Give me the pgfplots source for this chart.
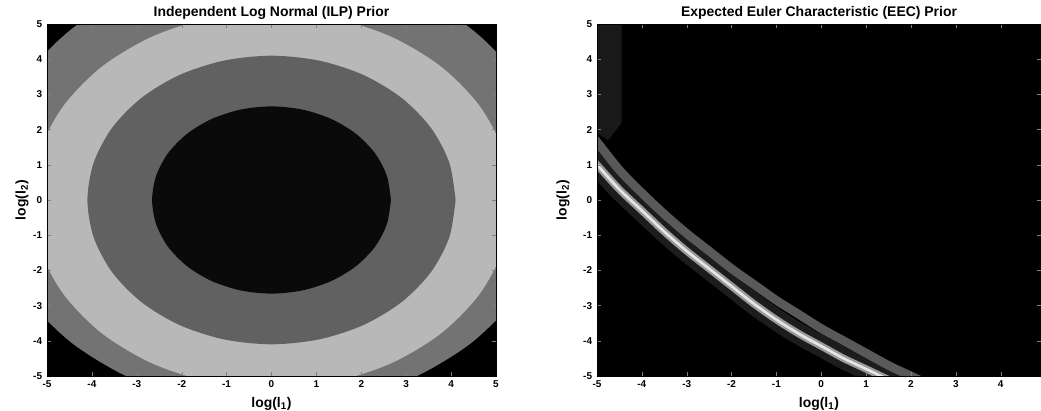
\documentclass[border=0pt]{standalone}
\usepackage{pgfplots}
\pgfplotsset{compat=1.18}
\usepackage{fontspec}
\setmainfont{Liberation Sans}
\begin{document}
\begin{tikzpicture}
\useasboundingbox (-35.25bp,-26.25bp) rectangle (745.5bp,282bp);
\pgfplotsset{
  common/.style={
    scale only axis, height=264bp,
    xmin=-5, ymin=-5, ymax=5,
    ytick={-5,...,5},
    axis background/.style={fill=black},
    axis on top,
    tick align=inside, major tick length=3bp,
    /pgf/number format/assume math mode=true,
    ticklabel style={font=\fontsize{7.5}{8}\selectfont\bfseries, inner sep=0pt},
    xticklabel style={anchor=north, yshift=-3bp},
    yticklabel style={anchor=east, xshift=-3.5bp},
    title style={at={(axis description cs:0.5,1)}, anchor=base, inner sep=0pt, font=\fontsize{10.5}{12}\selectfont\bfseries},
    xlabel style={at={(axis description cs:0.5,0)}, anchor=north, yshift=-16bp, inner sep=0pt, font=\fontsize{10.5}{12}\selectfont\bfseries},
    ylabel style={anchor=center, inner sep=0pt, font=\fontsize{10.5}{12}\selectfont\bfseries},
    xlabel={log(l\textsubscript{1})}, ylabel={log(l\textsubscript{2})},
  }
}
% ---------------- Left: ILP prior ----------------
\begin{axis}[common, width=336.75bp, xmax=5, xtick={-5,...,5},
  title={Independent Log Normal (ILP) Prior},
  ylabel style={at={(axis description cs:-0.0557,0.5)}}]
\addplot[draw=none, fill=black!55, smooth] coordinates {(6.3,0.4)(6.085,2.03)(5.456,3.55)(4.455,4.855)(3.15,5.856)(1.63,6.485)(0,6.7)(-1.63,6.485)(-3.15,5.856)(-4.455,4.855)(-5.456,3.55)(-6.085,2.03)(-6.3,0.4)(-6.085,-1.23)(-5.456,-2.75)(-4.455,-4.055)(-3.15,-5.056)(-1.63,-5.685)(0,-5.9)(1.63,-5.685)(3.15,-5.056)(4.455,-4.055)(5.456,-2.75)(6.085,-1.23)(6.3,0.4)};
\addplot[draw=none, fill=black!28, smooth] coordinates {(5.35,0)(5.168,1.385)(4.633,2.675)(3.783,3.783)(2.675,4.633)(1.385,5.168)(0,5.35)(-1.385,5.168)(-2.675,4.633)(-3.783,3.783)(-4.633,2.675)(-5.168,1.385)(-5.35,0)(-5.168,-1.385)(-4.633,-2.675)(-3.783,-3.783)(-2.675,-4.633)(-1.385,-5.168)(0,-5.35)(1.385,-5.168)(2.675,-4.633)(3.783,-3.783)(4.633,-2.675)(5.168,-1.385)(5.35,0)};
\addplot[draw=none, fill=black!62, smooth] coordinates {(4.1,0)(3.96,1.061)(3.551,2.05)(2.899,2.899)(2.05,3.551)(1.061,3.96)(0,4.1)(-1.061,3.96)(-2.05,3.551)(-2.899,2.899)(-3.551,2.05)(-3.96,1.061)(-4.1,0)(-3.96,-1.061)(-3.551,-2.05)(-2.899,-2.899)(-2.05,-3.551)(-1.061,-3.96)(0,-4.1)(1.061,-3.96)(2.05,-3.551)(2.899,-2.899)(3.551,-2.05)(3.96,-1.061)(4.1,0)};
\addplot[draw=none, fill=black!96, smooth] coordinates {(2.66,0)(2.569,0.688)(2.304,1.33)(1.881,1.881)(1.33,2.304)(0.688,2.569)(0,2.66)(-0.688,2.569)(-1.33,2.304)(-1.881,1.881)(-2.304,1.33)(-2.569,0.688)(-2.66,0)(-2.569,-0.688)(-2.304,-1.33)(-1.881,-1.881)(-1.33,-2.304)(-0.688,-2.569)(0,-2.66)(0.688,-2.569)(1.33,-2.304)(1.881,-1.881)(2.304,-1.33)(2.569,-0.688)(2.66,0)};
\end{axis}
% ---------------- Right: EEC prior ----------------
\begin{axis}[common, at={(412.5bp,0bp)}, anchor=south west, width=333bp, xmax=4.9, xtick={-5,...,4},
  title={Expected Euler Characteristic (EEC) Prior},
  ylabel style={at={(axis description cs:-0.0766,0.5)}}]
\addplot[draw=none, fill=black!90] coordinates {(-5,5)(-4.45,5)(-4.45,2.2)(-4.75,1.7)(-5,1.9)};
\addplot[black!89, line width=16bp, smooth] coordinates {(-5.3,1.42)(-5.0,1.0)(-4.5,0.3)(-4.0,-0.3)(-3.5,-0.9)(-3.0,-1.45)(-2.5,-1.95)(-2.0,-2.45)(-1.5,-2.95)(-1.0,-3.4)(-0.5,-3.8)(0.0,-4.15)(0.5,-4.5)(1.0,-4.8)(1.5,-5.1)(2.0,-5.35)};
\addplot[black!65, line width=6.5bp, smooth] coordinates {(-5.3,2.1)(-5.0,1.65)(-4.5,0.85)(-4.0,0.2)(-3.5,-0.4)(-3.0,-0.95)(-2.5,-1.45)(-2.0,-1.95)(-1.5,-2.4)(-1.0,-2.85)(-0.5,-3.25)(0.0,-3.65)(0.5,-4.0)(1.0,-4.35)(1.5,-4.7)(2.0,-5.0)(2.5,-5.3)};
\addplot[black!40, line width=5.5bp, smooth] coordinates {(-5.3,1.42)(-5.0,1.0)(-4.5,0.3)(-4.0,-0.3)(-3.5,-0.9)(-3.0,-1.45)(-2.5,-1.95)(-2.0,-2.45)(-1.5,-2.95)(-1.0,-3.4)(-0.5,-3.8)(0.0,-4.15)(0.5,-4.5)(1.0,-4.8)(1.5,-5.1)(2.0,-5.35)};
\addplot[black!10, line width=2bp, smooth] coordinates {(-5.3,1.42)(-5.0,1.0)(-4.5,0.3)(-4.0,-0.3)(-3.5,-0.9)(-3.0,-1.45)(-2.5,-1.95)(-2.0,-2.45)(-1.5,-2.95)(-1.0,-3.4)(-0.5,-3.8)(0.0,-4.15)(0.5,-4.5)(1.0,-4.8)(1.5,-5.1)(2.0,-5.35)};
\end{axis}
\end{tikzpicture}
\end{document}
